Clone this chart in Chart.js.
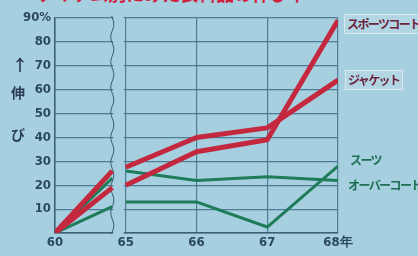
<!DOCTYPE html>
<html>
<head>
<meta charset="utf-8">
<script src="https://cdn.jsdelivr.net/npm/chart.js@4.4.1/dist/chart.umd.min.js"></script>
<style>
  html, body { margin: 0; padding: 0; background: #a6cfe0; }
  #wrap { position: relative; width: 418px; height: 256px; overflow: hidden; }
  #myChart { position: absolute; left: 0; top: 0; }
  .lbl { position: absolute; font-family: "Noto Sans CJK JP", sans-serif; font-weight: bold; font-size: 12px; line-height: 18px; white-space: nowrap; letter-spacing: -1.6px; }
  .box { border: 1.5px solid #dfe6ee; background: #b2d6e4; padding: 0 3px 0 2px; color: #6a2440; }
  .green { color: #1d6e52; }
  .ytitle { position: absolute; font-family: "Noto Sans CJK JP", sans-serif; font-weight: bold; color: #2c3e55; font-size: 14px; }
  #title { position: absolute; left: 38px; top: -20px; font-family: "Noto Sans CJK JP", sans-serif; font-weight: bold; font-size: 18px; color: #d0203c; white-space: nowrap; }
</style>
</head>
<body>
<div id="wrap">
  <div id="title">アイテム別にみた衣料品の伸び率</div>
  <canvas id="myChart" width="418" height="256"></canvas>
  <div class="ytitle" style="left:12px; top:52px; font-size:16px;">↑</div>
  <div class="ytitle" style="left:11px; top:82px;">伸</div>
  <div class="ytitle" style="left:11px; top:124px;">び</div>
  <div class="lbl box" style="left:344px; top:14px;">スポーツコート</div>
  <div class="lbl box" style="left:345px; top:70px;">ジャケット</div>
  <div class="lbl green" style="left:350px; top:151px;">スーツ</div>
  <div class="lbl green" style="left:348px; top:176px;">オーバーコート</div>
</div>
<script>
// x labels: 60, then (after the axis break) 65..68
var years = ['60', '65', '66', '67', '68年'];

// values: 60, where the 60 segment meets the break, 65, 66, 67, 68
var sportsCoat = [0, 19, 20, 34, 39, 89];
var jacket     = [0, 26, 27.5, 40, 44, 64];
var suit       = [0, 11, 13, 13, 2.5, 28];
var overcoat   = [0, 23, 26, 22, 23.5, 22];

var yTicks = [10, 20, 30, 40, 50, 60, 70, 80, 90];

var BREAK = 0.81;   // where the squiggle sits between 60 and 65
var BG = '#a6cfe0';

function toPoints(vals) {
    // 60 is at 0, the break at BREAK, then 65.. at 1,2,3,4
    var pts = [{x: 0, y: vals[0]}, {x: BREAK, y: vals[1]}, {x: 0.9, y: null}];
    for (var i = 2; i < vals.length; i++) {
        pts.push({x: i - 1, y: vals[i]});
    }
    return pts;
}

var breakPlugin = {
    id: 'axisBreak',
    beforeDatasetsDraw: function (chart) {
        var ctx = chart.ctx;
        var a = chart.chartArea;
        var xb = chart.scales.x.getPixelForValue(BREAK);
        var x65 = chart.scales.x.getPixelForValue(1);
        ctx.save();
        ctx.fillStyle = BG;
        ctx.fillRect(xb + 1, a.top - 2, x65 - xb - 3, a.bottom - a.top + 4);
        ctx.strokeStyle = '#3e5e74';
        ctx.lineWidth = 1;
        ctx.beginPath();
        for (var y = a.top - 2; y <= a.bottom + 1; y++) {
            var x = xb + 1.5 * Math.sin((y - a.top) / 4);
            if (y === a.top - 2) ctx.moveTo(x, y); else ctx.lineTo(x, y);
        }
        ctx.stroke();
        ctx.restore();
    }
};

var tickFont = { family: '"Liberation Sans Narrow", "DejaVu Sans Condensed", sans-serif', size: 13, weight: 'bold' };

var ctx = document.getElementById('myChart').getContext('2d');
var myChart = new Chart(ctx, {
    type: 'line',
    data: {
        datasets: [
            { label: 'スポーツコート', data: toPoints(sportsCoat), borderColor: '#c4283e', borderWidth: 5 },
            { label: 'ジャケット', data: toPoints(jacket), borderColor: '#c4283e', borderWidth: 5 },
            { label: 'スーツ', data: toPoints(suit), borderColor: '#1f7c58', borderWidth: 3 },
            { label: 'オーバーコート', data: toPoints(overcoat), borderColor: '#1f7c58', borderWidth: 3 }
        ]
    },
    options: {
        responsive: false,
        animation: false,
        spanGaps: false,
        elements: {
            point: { radius: 0 },
            line: { tension: 0, borderJoinStyle: 'round' }
        },
        layout: { padding: { top: 18, right: 80, left: 0, bottom: 0 } },
        scales: {
            x: {
                type: 'linear',
                min: 0,
                max: 4,
                afterBuildTicks: function (scale) {
                    scale.ticks = years.map(function (y, i) { return {value: i}; });
                },
                afterFit: function (scale) { scale.height = 23; },
                ticks: {
                    color: '#2b4862',
                    font: tickFont,
                    padding: 2,
                    maxRotation: 0,
                    callback: function (v, i) { return years[i]; }
                },
                grid: { color: '#4e7e96', lineWidth: 1.2, drawTicks: false },
                border: { color: '#3e5e74', width: 1.5 }
            },
            y: {
                min: 0,
                max: 90,
                afterBuildTicks: function (scale) {
                    scale.ticks = [{value: 0}].concat(yTicks.map(function (v) { return {value: v}; }));
                },
                afterFit: function (scale) { scale.width = 55; },
                ticks: {
                    color: '#2b4862',
                    font: tickFont,
                    padding: 4,
                    callback: function (v) { return v === 0 ? '' : (v === 90 ? '90%' : String(v)); }
                },
                grid: { color: '#4e7e96', lineWidth: 1.2, drawTicks: false },
                border: { color: '#3e5e74', width: 1.5 }
            }
        },
        plugins: {
            legend: { display: false },
            tooltip: { enabled: false }
        }
    },
    plugins: [breakPlugin]
});
</script>
</body>
</html>
